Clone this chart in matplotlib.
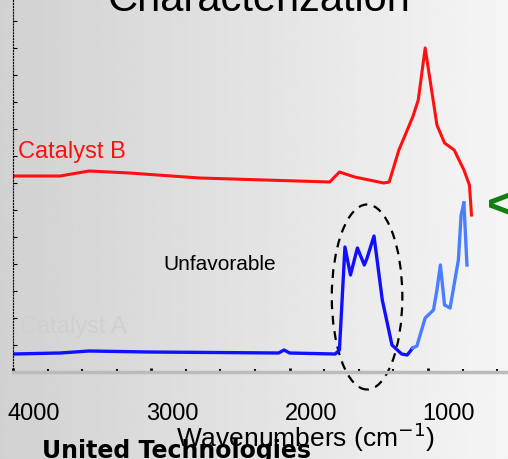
import numpy as np
import matplotlib.pyplot as plt
import matplotlib.transforms as mtransforms
from matplotlib.patches import Ellipse

plt.rcParams['font.family'] = ['Liberation Sans', 'DejaVu Sans']

# wavenumbers (cm-1) and relative signal
wn_b = [4000, 3660, 3450, 3160, 2650, 1710, 1640, 1530, 1320, 1280, 1210, 1110, 1070, 1020,
        935, 880, 810, 740, 700, 685]
sig_b = [196, 196, 201, 199, 194, 190, 200, 195, 189, 190, 222, 255, 272, 324,
         247, 229, 222, 202, 187, 157]

wn_a = [4000, 3660, 3450, 3020, 2080, 2040, 2000, 1670, 1640, 1600, 1560, 1510, 1460,
        1440, 1390, 1330, 1260, 1190, 1150, 1110]
sig_a = [18, 19, 21, 20, 19, 22, 19, 18, 22, 125, 97, 124, 107, 114, 136, 72, 27, 18, 17, 24]
wn_a2 = [1110, 1080, 1020, 960, 935, 910, 880, 840, 780, 760, 740]
sig_a2 = [24, 26, 54, 62, 82, 107, 67, 64, 112, 157, 169]
wn_a3 = [740, 718]
sig_a3 = [169, 107]

fig = plt.figure(figsize=(5.08, 4.59), dpi=100)
bg = fig.add_axes([0, 0, 1, 1])
grad = np.linspace(0.82, 0.96, 256)[None, :]
bg.imshow(grad, cmap='gray', vmin=0, vmax=1, aspect='auto', extent=[0, 1, 0, 1])
bg.set_axis_off()

ax = fig.add_axes([13 / 508, (459 - 372) / 459, 495 / 508, 372 / 459])
ax.patch.set_alpha(0)
ax.set_xlim(4000, 4000 - 495 * 7.23)
ax.set_ylim(0, 372)
ax.plot(wn_b, sig_b, color='#ff1010', lw=2.2)
ax.plot(wn_a, sig_a, color='#1010ff', lw=2.4)
ax.plot(wn_a2, sig_a2, color='#4a7dff', lw=2.4)
ax.plot(wn_a3, sig_a3, color='#4a7dff', lw=2.4)
ax.add_patch(Ellipse((1440, 75), 510, 185, fill=False, ls=(0, (4, 3)), lw=1.6,
                     color='black', clip_on=False))

for s in ['top', 'right']:
    ax.spines[s].set_visible(False)
ax.spines['bottom'].set_color('#bbbbbb')
ax.spines['bottom'].set_linewidth(2.5)
ax.spines['left'].set_linestyle(':')
ax.set_xticks([4000, 3000, 2000, 1000])
ax.set_xticks(np.arange(4000, 400, -250), minor=True)
ax.tick_params(axis='x', direction='in', length=3, width=2, labelsize=17, pad=22)
ax.tick_params(axis='x', which='minor', direction='in', length=2, width=1.5)
shift = mtransforms.ScaledTranslation(0.21, 0, fig.dpi_scale_trans)
for lab in ax.get_xticklabels():
    lab.set_transform(lab.get_transform() + shift)
ax.set_yticks(np.arange(0, 372, 27))
ax.tick_params(axis='y', direction='in', length=3, labelleft=False)
ax.set_xlabel('Wavenumbers (cm$^{-1}$)', fontsize=19)
ax.xaxis.set_label_coords(0.59, -0.13)

fig.text(0.51, 1.0, 'Characterization', fontsize=30, ha='center', va='center')
fig.text(18 / 508, 1 - 152 / 459, 'Catalyst B', color='#ff1010', fontsize=17, va='center')
fig.text(20 / 508, 1 - 327 / 459, 'Catalyst A', color='#cfcfcf', fontsize=17, va='center')
fig.text(163 / 508, 1 - 265 / 459, 'Unfavorable', color='black', fontsize=15, va='center')
fig.text(487 / 508, 1 - 208 / 459, '<', color='#108010', fontsize=34, fontweight='bold',
         va='center')
fig.text(42 / 508, 1 - 451 / 459, 'United Technologies', fontsize=17, fontweight='bold',
         family='Liberation Sans Narrow', va='center')
fig.savefig('out.png', dpi=100)
